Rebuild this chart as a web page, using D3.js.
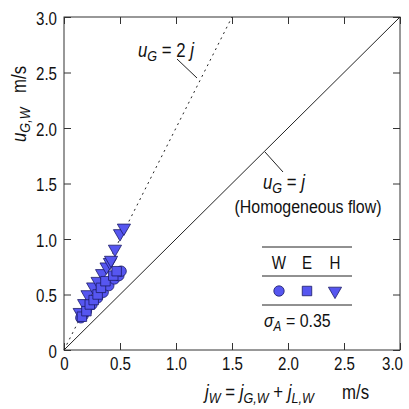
<!DOCTYPE html>
<html>
<head>
<meta charset="utf-8">
<script src="https://cdn.jsdelivr.net/npm/d3@7"></script>
<style>
  body { margin: 0; background: #fff; }
  svg text { font-family: "Liberation Sans", Arial, sans-serif; fill: #111; }
</style>
</head>
<body>
<svg id="chart" width="409" height="409"></svg>
<script>
// data (j_W, u_G,W in m/s)
const wJ = [0.15, 0.17, 0.20, 0.25, 0.30, 0.35, 0.40, 0.45, 0.49, 0.51];
const wU = [0.29, 0.31, 0.35, 0.41, 0.47, 0.52, 0.58, 0.64, 0.67, 0.71];

const hJ = [0.14, 0.18, 0.21, 0.26, 0.30, 0.34, 0.38, 0.41, 0.42, 0.455, 0.50, 0.535];
const hU = [0.34, 0.42, 0.50, 0.57, 0.62, 0.69, 0.75, 0.79, 0.81, 0.91, 1.05, 1.10];

const eJ = [0.16, 0.20, 0.23, 0.265, 0.30, 0.33, 0.37, 0.44, 0.47];
const eU = [0.30, 0.35, 0.41, 0.45, 0.50, 0.56, 0.62, 0.67, 0.71];

const ticks = [0, 0.5, 1.0, 1.5, 2.0, 2.5, 3.0];
const tickLabels = ['0', '0.5', '1.0', '1.5', '2.0', '2.5', '3.0'];

const svg = d3.select('#chart');
const x = d3.scaleLinear().domain([0, 3]).range([64, 400]);
const y = d3.scaleLinear().domain([0, 3]).range([350, 17]);

const fill = '#5656f0';
const edge = '#1c1c66';
const narrow = 0.84;   // the original type is a condensed sans

// frame
svg.append('rect')
  .attr('x', x(0)).attr('y', y(3))
  .attr('width', x(3) - x(0)).attr('height', y(0) - y(3))
  .attr('fill', 'none').attr('stroke', '#333').attr('stroke-width', 1);

let fmt = (d, i) => tickLabels[i];

let axBottom = svg.append('g').attr('transform', 'translate(0,' + y(0) + ')')
  .call(d3.axisBottom(x).tickValues(ticks).tickSize(-7).tickPadding(7).tickFormat(fmt));
let axTop = svg.append('g').attr('transform', 'translate(0,' + y(3) + ')')
  .call(d3.axisTop(x).tickValues(ticks).tickSize(-7).tickFormat(''));
let axLeft = svg.append('g').attr('transform', 'translate(' + x(0) + ',0)')
  .call(d3.axisLeft(y).tickValues(ticks).tickSize(-7).tickPadding(7).tickFormat(fmt));
let axRight = svg.append('g').attr('transform', 'translate(' + x(3) + ',0)')
  .call(d3.axisRight(y).tickValues(ticks).tickSize(-7).tickFormat(''));

[axBottom, axTop, axLeft, axRight].forEach(g => {
  g.select('.domain').remove();
  g.selectAll('line').attr('stroke', '#333');
  g.selectAll('text').style('font-size', '18px').attr('fill', '#111')
    .attr('transform', 'scale(' + narrow + ',1)');
});
axLeft.selectAll('text').attr('x', -7 / narrow).attr('dy', '0.4em');
// last x label is pulled in so it stays inside the picture
axBottom.selectAll('text').filter(d => d === 3).attr('x', -8 / narrow);

// text helper: condensed text at a point
let label = (px, py, size, anchor, rot) => svg.append('text')
  .attr('transform', 'translate(' + px + ',' + py + ')' + (rot ? ' rotate(' + rot + ')' : '') + ' scale(' + narrow + ',1)')
  .attr('text-anchor', anchor || 'start')
  .style('font-size', size + 'px');
let sub = (t, s, size) => {
  t.append('tspan').style('font-style', 'italic').style('font-size', size + 'px').attr('dy', 4).text(s);
};

// reference lines
svg.append('line')
  .attr('x1', x(0)).attr('y1', y(0)).attr('x2', x(3)).attr('y2', y(3))
  .attr('stroke', '#222').attr('stroke-width', 1);
svg.append('line')
  .attr('x1', x(0)).attr('y1', y(0)).attr('x2', x(1.5)).attr('y2', y(3))
  .attr('stroke', '#222').attr('stroke-width', 1).attr('stroke-dasharray', '2,4');

// leader lines
svg.append('line').attr('x1', 177).attr('y1', 59).attr('x2', 197).attr('y2', 78).attr('stroke', '#222');
svg.append('line').attr('x1', 265).attr('y1', 152).attr('x2', 283).attr('y2', 172).attr('stroke', '#222');

// labels on the lines
let t1 = label(138, 57, 20);
t1.append('tspan').style('font-style', 'italic').text('u');
sub(t1, 'G', 15);
t1.append('tspan').attr('dy', -4).text(' = 2 ');
t1.append('tspan').style('font-style', 'italic').text('j');

let t2 = label(263, 189, 20);
t2.append('tspan').style('font-style', 'italic').text('u');
sub(t2, 'G', 15);
t2.append('tspan').attr('dy', -4).text(' =  ');
t2.append('tspan').style('font-style', 'italic').text('j');

label(308, 213, 19, 'middle').text('(Homogeneous flow)');

// markers
const sym = (type, size) => d3.symbol().type(type).size(size)();
let drawSeries = (js, us, type, size, rot) => {
  svg.append('g').selectAll('path')
    .data(js.map((d, i) => [d, us[i]]))
    .join('path')
    .attr('d', sym(type, size))
    .attr('transform', d => 'translate(' + x(d[0]) + ',' + y(d[1]) + ')' + (rot ? 'rotate(180)' : ''))
    .attr('fill', fill).attr('stroke', edge).attr('stroke-width', 0.8);
};
drawSeries(wJ, wU, d3.symbolCircle, 85, false);
drawSeries(hJ, hU, d3.symbolTriangle, 75, true);
drawSeries(eJ, eU, d3.symbolSquare, 90, false);

// legend
[247, 276, 305].forEach(ly => {
  svg.append('line').attr('x1', 262).attr('x2', 352).attr('y1', ly).attr('y2', ly)
    .attr('stroke', '#222').attr('stroke-width', 1);
});
const legNames = ['W', 'E', 'H'];
const legX = [279, 307, 335];
const legType = [d3.symbolCircle, d3.symbolSquare, d3.symbolTriangle];
const legSize = [85, 90, 75];
legNames.forEach((n, i) => {
  label(legX[i], 269, 18, 'middle').text(n);
  svg.append('path').attr('d', sym(legType[i], legSize[i]))
    .attr('transform', 'translate(' + legX[i] + ',291)' + (i === 2 ? 'rotate(180)' : ''))
    .attr('fill', fill).attr('stroke', edge).attr('stroke-width', 0.8);
});
let sg = label(264, 327, 19);
sg.append('tspan').style('font-style', 'italic').text('σ');
sub(sg, 'A', 14);
sg.append('tspan').attr('dy', -4).text(' = 0.35');

// axis titles
let xt = label(205, 399, 20);
xt.append('tspan').style('font-style', 'italic').text('j');
sub(xt, 'W', 15);
xt.append('tspan').attr('dy', -4).text(' = ');
xt.append('tspan').style('font-style', 'italic').text('j');
sub(xt, 'G,W', 15);
xt.append('tspan').attr('dy', -4).text(' + ');
xt.append('tspan').style('font-style', 'italic').text('j');
sub(xt, 'L,W', 15);
label(342, 399, 20).text('m/s');

let yt = label(26, 142, 20, 'start', -90);
yt.append('tspan').style('font-style', 'italic').text('u');
sub(yt, 'G,W', 15);
label(26, 93, 20, 'start', -90).text('m/s');
</script>
</body>
</html>
